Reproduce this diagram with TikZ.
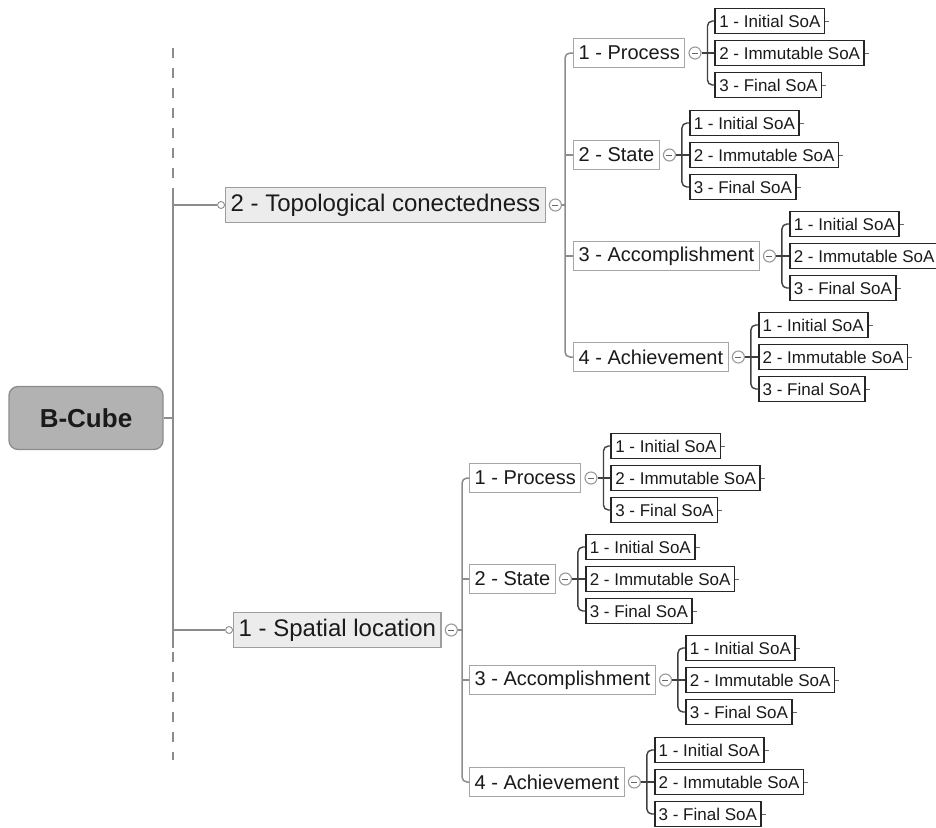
\documentclass[tikz,border=0pt]{standalone}
\usepackage{fontspec}
\setmainfont{Liberation Sans}
\usepackage{tikz}
\usetikzlibrary{calc, positioning}
\usepackage{xcolor}
\definecolor{rootfill}{HTML}{B2B2B2}
\definecolor{topicfill}{HTML}{ECECEC}
\definecolor{inkgray}{HTML}{1A1A1A}

\begin{document}
\begin{tikzpicture}[x=1pt, y=-1pt, text=inkgray,
    root/.style={draw=black!45, line width=1.3pt, fill=rootfill, rounded corners=9pt, minimum width=154pt, minimum height=63pt, font=\fontsize{26}{30}\selectfont\bfseries},
    topic/.style={draw=black!38, line width=1.3pt, fill=topicfill, inner xsep=5pt, inner ysep=0pt, minimum height=35pt, font=\fontsize{24}{28}\selectfont, anchor=west},
    sub/.style={draw=black!35, line width=1.3pt, fill=white, inner xsep=5pt, inner ysep=0pt, minimum height=29pt, font=\fontsize{20}{24}\selectfont, anchor=west},
    leaf/.style={draw=black!85, line width=1.7pt, fill=white, inner xsep=4pt, inner ysep=0pt, minimum height=25pt, font=\fontsize{17}{20}\selectfont, anchor=west},
    fold/.style={circle, draw=black!40, line width=1.1pt, fill=white, minimum size=12pt, inner sep=0pt,
      path picture={\draw[black!60, line width=1pt] ([xshift=-3pt]path picture bounding box.center) -- ([xshift=3pt]path picture bounding box.center);}},
    knob/.style={circle, draw=black!45, line width=0.9pt, fill=white, minimum size=7pt, inner sep=0pt},
    link/.style={draw=black!45, line width=1.5pt},
    twig/.style={draw=black!75, line width=1.4pt, rounded corners=5pt}]
  \useasboundingbox (0,0) rectangle (936,827);

  % trunk
  \coordinate (t0) at (173,48);
  \coordinate (t1) at (173,190);
  \coordinate (t2) at (173,648);
  \coordinate (t3) at (173,760);
  \coordinate (hub) at (173,418);
  \draw[link, dash pattern=on 10pt off 10pt] (t0) -- (t1);
  \draw[link] (t1) -- (t2);
  \draw[link, dash pattern=on 10pt off 10pt] ([yshift=-4pt]t2) -- (t3);

  \node[root] (root) at (86,418) {B-Cube};
  \draw[link] (root.east) -- (hub);

  % main branches
  \node[topic] (topo) at (225,205) {2 - Topological conectedness};
  \node[topic] (spat) at (233,630) {1 - Spatial location};
  \node[knob, left=0pt of topo] (k2) {};
  \node[knob, left=0pt of spat] (k1) {};
  \draw[link] (k2.west) -- (k2.west -| hub);
  \draw[link] (k1.west) -- (k1.west -| hub);
  \node[fold, right=3pt of topo] (f2) {};
  \node[fold, right=3pt of spat] (f1) {};

  % second level, topological
  \node[sub] (pro2) at (573,53) {1 - Process};
  \node[sub] (sta2) at (573,155) {2 - State};
  \node[sub] (acc2) at (573,256) {3 - Accomplishment};
  \node[sub] (ach2) at (573,357) {4 - Achievement};
  \coordinate (bus2) at (565,205);
  \draw[link] (f2) -- (bus2);
  \draw[link, rounded corners=5pt] (pro2.west) -| (bus2) |- (ach2.west);
  \draw[link] (sta2.west) -- (sta2.west -| bus2);
  \draw[link] (acc2.west) -- (acc2.west -| bus2);

  % second level, spatial
  \node[sub] (pro1) at (469,478) {1 - Process};
  \node[sub] (sta1) at (469,579) {2 - State};
  \node[sub] (acc1) at (469,680) {3 - Accomplishment};
  \node[sub] (ach1) at (469,782) {4 - Achievement};
  \coordinate (bus1) at (462,630);
  \draw[link] (f1) -- (bus1);
  \draw[link, rounded corners=5pt] (pro1.west) -| (bus1) |- (ach1.west);
  \draw[link] (sta1.west) -- (sta1.west -| bus1);
  \draw[link] (acc1.west) -- (acc1.west -| bus1);

  % states of affairs
  \foreach \s in {pro2, sta2, acc2, ach2, pro1, sta1, acc1, ach1} {
    \node[fold, right=3pt of \s] (\s-f) {};
    \coordinate (\s-j) at ($(\s.east)+(22,0)$);
    \node[leaf] (\s-a) at ($(\s.east)+(29,-32)$) {1 - Initial SoA};
    \node[leaf] (\s-b) at ($(\s.east)+(29,0)$) {2 - Immutable SoA};
    \node[leaf] (\s-c) at ($(\s.east)+(29,32)$) {3 - Final SoA};
    \draw[twig] (\s-f) -- (\s-b.west);
    \draw[twig] (\s-a.west) -| (\s-j) |- (\s-c.west);
    \foreach \t in {a, b, c}
      \draw[black!60, line width=0.9pt] (\s-\t.east) -- ++(4,0);
  }
\end{tikzpicture}
\end{document}
